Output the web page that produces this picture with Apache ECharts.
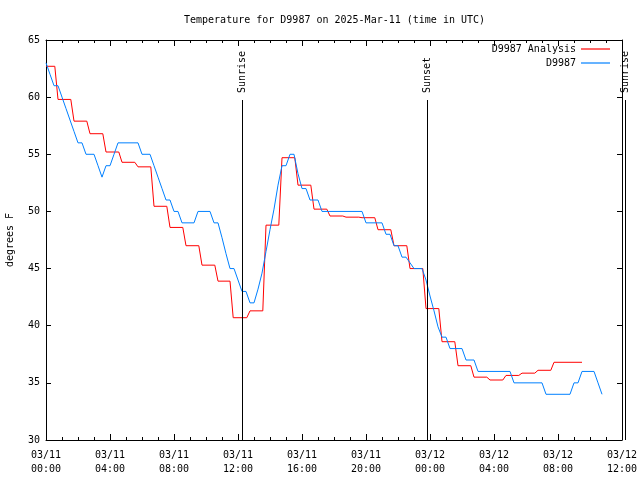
<!DOCTYPE html>
<html><head><meta charset="utf-8">
<script src="https://cdn.jsdelivr.net/npm/echarts@6/dist/echarts.min.js"></script>
<style>html,body{margin:0;padding:0;background:#fff}#c{width:640px;height:480px}</style>
</head><body><div id="c"></div>
<script>
const titleText = 'Temperature for D9987 on 2025-Mar-11 (time in UTC)';
const yAxisName = 'degrees F';
const xTickLabels = ['03/11\n00:00','03/11\n04:00','03/11\n08:00','03/11\n12:00','03/11\n16:00','03/11\n20:00','03/12\n00:00','03/12\n04:00','03/12\n08:00','03/12\n12:00'];
const analysisName = 'D9987 Analysis';
const obsName = 'D9987';
// analysis: hours (from 03/11 00:00 UTC) at which each value begins
const analysisTimes = [0, 0.65, 1.65, 2.65, 3.65, 4.65, 5.65, 6.65, 7.65, 8.65, 9.65, 10.65, 11.6, 12.65, 13.65, 14.65, 15.65, 16.65, 17.65, 18.65, 19.65, 20.65, 21.65, 22.65, 23.65, 24.65, 25.65, 26.65, 27.65, 28.65, 29.65, 30.65, 31.65];
const analysisValues = [62.7, 59.8, 57.9, 56.8, 55.2, 54.3, 53.9, 50.45, 48.6, 47.0, 45.3, 43.9, 40.7, 41.3, 48.8, 54.7, 52.3, 50.2, 49.6, 49.5, 49.45, 48.4, 47.0, 45.0, 41.5, 38.6, 36.5, 35.5, 35.25, 35.65, 35.85, 36.1, 36.8];
const analysisEnd = 33.5;
// observations every 15 minutes from 03/11 00:00 UTC
const obsStepHours = 0.25;
const obsValues = [
 63,62,61,61,60,59,58,57,56,56,55,55,55,54,53,54,54,55,56,56,
 56,56,56,56,55,55,55,54,53,52,51,51,50,50,49,49,49,49,50,50,
 50,50,49,49,47.7,46.3,45,45,44,43,43,42,42,43.2,44.6,46.5,48.4,50.2,52.3,54,
 54,55,55,53.3,52,52,51,51,51,50,50,50,50,50,50,50,50,50,50,50,
 49,49,49,49,49,48,48,47,47,46,46,45.5,45,45,45,44,42.6,41.3,39.9,39,
 39,38,38,38,38,37,37,37,36,36,36,36,36,36,36,36,36,35,35,35,
 35,35,35,35,35,34,34,34,34,34,34,34,35,35,36,36,36,36,35,34
];
const sunTimes = [12.25, 23.83, 36.19];
const sunLabels = ['Sunrise', 'Sunset', 'Sunrise'];
const sunLineTopValue = 59.75;

const MONO = 'DejaVu Sans Mono';
const chart = echarts.init(document.getElementById('c'));

const transW = 0.2;
const analysisData = [];
for (let i = 0; i < analysisValues.length; i++) {
  const start = i === 0 ? analysisTimes[0] : analysisTimes[i] + transW / 2;
  const end = i === analysisValues.length - 1 ? analysisEnd : analysisTimes[i + 1] - transW / 2;
  analysisData.push([start, analysisValues[i]]);
  analysisData.push([end, analysisValues[i]]);
}
const obsData = obsValues.map((v, k) => [k * obsStepHours, v]);

const xBase = {
  type: 'value', min: 0, max: 36, interval: 4,
  axisLine: { show: true, onZero: false, lineStyle: { color: '#000', width: 1 } },
  axisTick: { show: true, inside: true, length: 6, lineStyle: { color: '#000' } },
  minorTick: { show: true, splitNumber: 4, length: 3, lineStyle: { color: '#000' } },
  splitLine: { show: false }, minorSplitLine: { show: false }
};
const yBase = {
  type: 'value', min: 30, max: 65, interval: 5,
  axisLine: { show: true, onZero: false, lineStyle: { color: '#000', width: 1 } },
  axisTick: { show: true, inside: true, length: 5, lineStyle: { color: '#000' } },
  splitLine: { show: false }
};

chart.setOption({
  animation: false,
  backgroundColor: '#fff',
  title: {
    text: titleText, left: 179, top: 10,
    textStyle: { fontFamily: MONO, fontSize: 10, fontWeight: 'normal', color: '#000' }
  },
  grid: { left: 46, right: 18, top: 40, bottom: 40, containLabel: false, outerBoundsMode: 'none' },
  legend: {
    data: [analysisName, obsName], orient: 'vertical', right: 25, top: 39,
    align: 'right', icon: 'rect', itemWidth: 29, itemHeight: 1.2, itemGap: 4,
    textStyle: { fontFamily: MONO, fontSize: 10, color: '#000', width: 90, align: 'right' }
  },
  xAxis: [
    Object.assign({}, xBase, {
      position: 'bottom',
      axisLabel: {
        show: true, margin: 8, color: '#000', fontFamily: MONO, fontSize: 10, lineHeight: 14,
        formatter: v => xTickLabels[Math.round(v / 4)] || ''
      }
    }),
    Object.assign({}, xBase, { position: 'top', axisLabel: { show: false } })
  ],
  yAxis: [
    Object.assign({}, yBase, {
      position: 'left',
      name: yAxisName, nameLocation: 'middle', nameGap: 31, nameRotate: 90,
      nameTextStyle: { fontFamily: MONO, fontSize: 10, color: '#000' },
      axisLabel: { show: true, margin: 6, color: '#000', fontFamily: MONO, fontSize: 10 }
    }),
    Object.assign({}, yBase, { position: 'right', axisLabel: { show: false } })
  ],
  series: [
    {
      name: analysisName, type: 'line', data: analysisData, showSymbol: false,
      color: '#ff0000', lineStyle: { width: 1, color: '#ff0000' }, z: 3
    },
    {
      name: obsName, type: 'line', data: obsData, showSymbol: false,
      color: '#0080ff', lineStyle: { width: 1, color: '#0080ff' }, z: 4
    },
    {
      name: 'sun', type: 'custom', clip: false, silent: true, z: 5,
      data: sunTimes.map((t, i) => [t, i]),
      renderItem: function (params, api) {
        const t = api.value(0);
        const idx = api.value(1);
        const pBottom = api.coord([t, 30]);
        const pTop = api.coord([t, sunLineTopValue]);
        const x = Math.round(pBottom[0]) + 0.5;
        return {
          type: 'group',
          children: [
            { type: 'line', shape: { x1: x, y1: pBottom[1], x2: x, y2: pTop[1] },
              style: { stroke: '#000', lineWidth: 1 } },
            { type: 'text', x: x, y: pTop[1] - 7, rotation: Math.PI / 2,
              style: { text: sunLabels[idx], fontFamily: MONO, fontSize: 10, fill: '#000',
                       align: 'left', verticalAlign: 'middle' } }
          ]
        };
      }
    }
  ]
});
</script>
</body></html>
